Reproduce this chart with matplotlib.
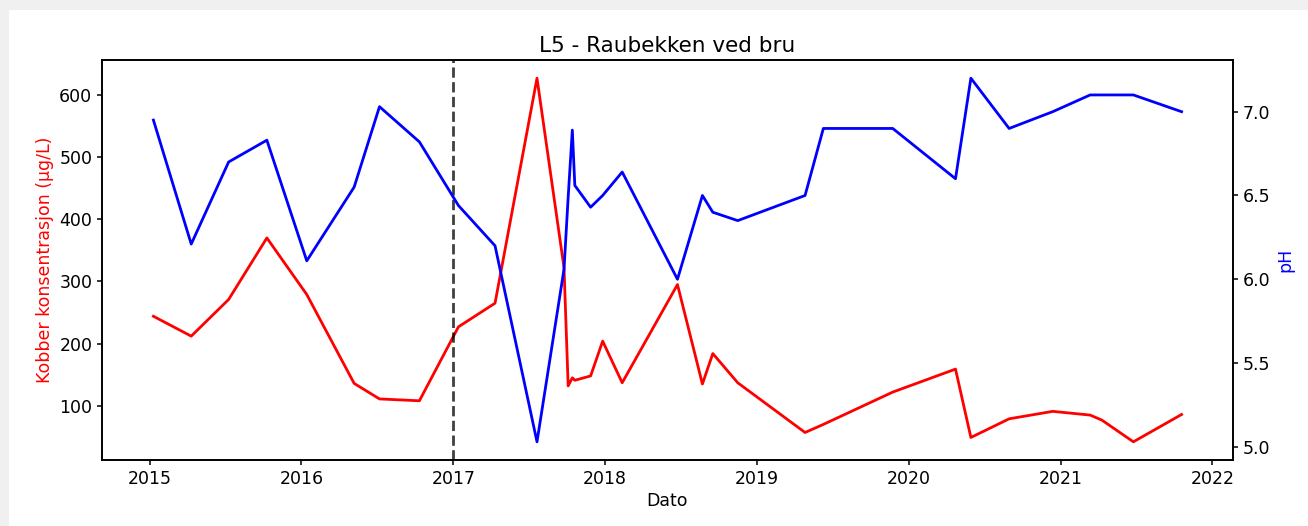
import matplotlib
matplotlib.use("Agg")
import matplotlib.pyplot as plt
import matplotlib.dates as mdates
from matplotlib.patches import Rectangle
import pandas as pd

# Sampling dates for station L5
dates = ['2015-01-10', '2015-04-11', '2015-07-10', '2015-10-10', '2016-01-14',
         '2016-05-07', '2016-07-07', '2016-10-11', '2017-01-13', '2017-04-11',
         '2017-07-21', '2017-09-24', '2017-10-04', '2017-10-14', '2017-10-20',
         '2017-11-27', '2017-12-26', '2018-02-11', '2018-06-24', '2018-08-23',
         '2018-09-17', '2018-11-16', '2019-04-27', '2019-06-10', '2019-11-24',
         '2020-04-23', '2020-05-30', '2020-08-30', '2020-12-13', '2021-03-13',
         '2021-04-10', '2021-06-25', '2021-10-19']

# Copper concentration (ug/L)
kobber = [244, 212, 271, 370, 279, 136, 111, 108, 227, 265,
          627, 322, 132, 145, 141, 148, 204, 137, 295, 135,
          184, 137, 57, 70, 122, 159, 49, 79, 91, 85,
          77, 42, 86]

# pH
ph = [6.95, 6.21, 6.70, 6.83, 6.11, 6.55, 7.03, 6.82, 6.44, 6.20,
      5.03, 6.06, 6.49, 6.89, 6.56, 6.43, 6.50, 6.64, 6.00, 6.50,
      6.40, 6.35, 6.50, 6.90, 6.90, 6.60, 7.20, 6.90, 7.00, 7.10,
      7.10, 7.10, 7.00]

tiltak_dato = '2017-01-01'

datoer = pd.to_datetime(dates)

plt.rcParams['font.size'] = 12.5
plt.rcParams['axes.linewidth'] = 1.2
plt.rcParams['xtick.major.width'] = 1.1
plt.rcParams['ytick.major.width'] = 1.1

fig = plt.figure(figsize=(13.08, 5.26), dpi=100, facecolor='#f0f0f0')
# white figure area (screenshot style, grey strip top and left)
fig.patches.append(Rectangle((9 / 1308, 0), 1, (526 - 10) / 526,
                             transform=fig.transFigure, facecolor='white',
                             edgecolor='none', zorder=-1))

ax1 = fig.add_axes([102 / 1308, 1 - 460 / 526, (1233 - 102) / 1308, 400 / 526])
ax1.plot(datoer, kobber, color='red', lw=2)
ax1.set_ylabel('Kobber konsentrasjon (µg/L)', color='red')
ax1.set_xlabel('Dato', labelpad=3)
ax1.axvline(pd.Timestamp(tiltak_dato), color='black', ls='--', lw=2, alpha=0.75)

ax2 = ax1.twinx()
ax2.plot(datoer, ph, color='blue', lw=2)
ax2.set_ylabel('pH', color='blue')

ax1.xaxis.set_major_locator(mdates.YearLocator())
ax1.xaxis.set_major_formatter(mdates.DateFormatter('%Y'))

ax1.set_title('L5 - Raubekken ved bru', fontsize=15.5)

fig.savefig('out.png', dpi=100, facecolor=fig.get_facecolor())
